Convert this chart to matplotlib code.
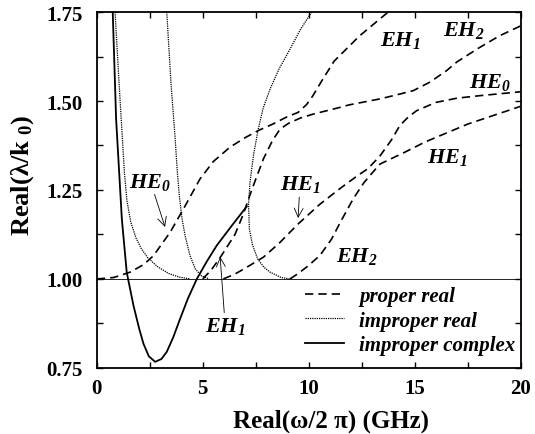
import matplotlib
matplotlib.use("Agg")
import matplotlib.pyplot as plt
from matplotlib.lines import Line2D
from matplotlib.ticker import MultipleLocator, NullFormatter

plt.rcParams['font.family'] = ['Liberation Serif', 'DejaVu Serif']
plt.rcParams['font.weight'] = 'bold'
plt.rcParams['mathtext.fontset'] = 'custom'
plt.rcParams['mathtext.rm'] = 'Liberation Serif:italic:bold'
plt.rcParams['mathtext.it'] = 'Liberation Serif:italic:bold'
plt.rcParams['mathtext.bf'] = 'Liberation Serif:bold'

# improper complex branch (solid)
cplx_f = [0.75, 0.91, 1.18, 1.41, 1.73, 2.0, 2.20, 2.45, 2.75, 3.05, 3.30, 3.6, 3.93, 4.3, 4.72, 5.2, 5.66, 6.4, 7.08]
cplx_v = [1.75, 1.449, 1.169, 1.019, 0.925, 0.86, 0.818, 0.783, 0.767, 0.775, 0.795, 0.835, 0.888, 0.945, 1.0, 1.05, 1.094, 1.152, 1.204]

# improper real branches (dotted)
impA_f = [0.86, 1.05, 1.20, 1.30, 1.42, 1.60, 1.85, 2.10, 2.40, 2.85, 3.40, 3.90, 4.40]
impA_v = [1.75, 1.55, 1.40, 1.30, 1.22, 1.16, 1.115, 1.085, 1.06, 1.035, 1.015, 1.005, 1.0]
impB_f = [3.30, 3.50, 3.69, 3.80, 3.90, 4.02, 4.17, 4.40, 4.65, 4.95, 5.30]
impB_v = [1.75, 1.55, 1.40, 1.30, 1.23, 1.17, 1.12, 1.065, 1.028, 1.008, 1.0]
impC_f = [10.14, 9.60, 9.12, 8.60, 8.18, 7.85, 7.62, 7.40, 7.23, 7.16, 7.20, 7.35, 7.60, 7.90, 8.18, 8.70, 9.12]
impC_v = [1.75, 1.70, 1.646, 1.59, 1.534, 1.48, 1.421, 1.35, 1.272, 1.21, 1.14, 1.095, 1.055, 1.032, 1.019, 1.004, 1.0]

# proper real branches (dashed)
pr1_f = [0.0, 0.8, 1.57, 2.2, 2.67, 3.46, 4.09, 4.87, 5.5, 6.28, 7.0, 7.62, 8.3, 8.96,
         9.5, 9.9, 10.2, 10.6, 11.2, 12.4, 13.75]
pr1_v = [1.0, 1.004, 1.019, 1.04, 1.065, 1.131, 1.197, 1.281, 1.33, 1.37, 1.397, 1.417, 1.435, 1.455,
         1.468, 1.49, 1.515, 1.555, 1.612, 1.683, 1.75]
pr2_f = [5.0, 5.4, 5.82, 6.2, 6.52, 6.9, 7.31, 7.86, 8.3, 8.65, 9.04, 9.6, 10.2, 11.47, 11.9,
         13.37, 14.2, 14.93, 15.72, 16.5, 17.0, 18.0, 19.0, 20.0]
pr2_v = [1.0, 1.025, 1.06, 1.095, 1.125, 1.18, 1.25, 1.337, 1.39, 1.421, 1.437, 1.452, 1.463, 1.482, 1.489,
         1.506, 1.518, 1.529, 1.553, 1.585, 1.61, 1.648, 1.683, 1.711]
pr3_f = [5.97, 6.5, 7.0, 7.86, 8.6, 9.51, 10.53, 11.5, 12.3, 12.8, 13.37, 13.9, 14.3, 14.7, 15.1,
         16.0, 17.0, 18.08, 20.0]
pr3_v = [1.0, 1.013, 1.03, 1.061, 1.10, 1.155, 1.21, 1.255, 1.29, 1.31, 1.346, 1.39, 1.431, 1.455, 1.473,
         1.496, 1.508, 1.515, 1.526]
pr4_f = [9.12, 9.5, 9.98, 10.53, 11.08, 11.5, 12.1, 12.6, 13.1, 13.37, 14.5, 15.5, 16.5, 17.5, 18.5, 20.0]
pr4_v = [1.0, 1.015, 1.037, 1.066, 1.112, 1.16, 1.225, 1.27, 1.305, 1.323, 1.355, 1.385, 1.41, 1.435, 1.455, 1.485]

fig = plt.figure(figsize=(5.35, 4.35), dpi=100)
ax = fig.add_axes([0.181, 0.152, 0.792, 0.818])

ax.axhline(1.0, color='black', lw=0.6)

dash = (0, (5, 3))
dot = (0, (1, 0.8))
for f, v in [(pr1_f, pr1_v), (pr2_f, pr2_v), (pr3_f, pr3_v), (pr4_f, pr4_v)]:
    ax.plot(f, v, color='black', lw=1.2, linestyle=dash)
for f, v in [(impA_f, impA_v), (impB_f, impB_v), (impC_f, impC_v)]:
    ax.plot(f, v, color='black', lw=0.9, linestyle=dot)
ax.plot(cplx_f, cplx_v, color='black', lw=1.3)

ax.set_xlim(0, 20)
ax.set_ylim(0.75, 1.75)
ax.xaxis.set_major_locator(MultipleLocator(5))
ax.xaxis.set_minor_locator(MultipleLocator(2.5))
ax.yaxis.set_major_locator(MultipleLocator(0.25))
ax.yaxis.set_minor_locator(MultipleLocator(0.125))
ax.yaxis.set_major_formatter(plt.FormatStrFormatter('%.2f'))
ax.xaxis.set_minor_formatter(NullFormatter())
ax.tick_params(which='both', direction='in', top=True, right=True, length=4, width=1,
               labelsize=15)
ax.tick_params(axis='x', pad=7)
ax.tick_params(axis='y', pad=10)
for lab in ax.get_xticklabels() + ax.get_yticklabels():
    lab.set_fontweight('bold')
for s in ax.spines.values():
    s.set_linewidth(1.3)

ax.set_xlabel('Real(ω/2 π) (GHz)', fontsize=18, fontweight='bold')
ax.set_ylabel(r'Real(λ/k $_\mathbf{0}$)', fontsize=19, fontweight='bold')
ax.xaxis.set_label_coords(0.553, -0.115)
ax.yaxis.set_label_coords(-0.143, 0.545)

lab_kw = dict(fontsize=16, ha='center', va='center')
arrow = dict(arrowstyle='->', lw=0.6, color='black', shrinkA=0, shrinkB=0)
ax.annotate(r'$HE_0$', xy=(3.22, 1.146), xytext=(2.52, 1.275), arrowprops=arrow, **lab_kw)
ax.annotate(r'$EH_1$', xy=(5.82, 1.062), xytext=(6.06, 0.868), arrowprops=arrow, **lab_kw)
ax.annotate(r'$HE_1$', xy=(9.50, 1.171), xytext=(9.59, 1.267), arrowprops=arrow, **lab_kw)
ax.text(12.28, 1.065, r'$EH_2$', **lab_kw)
ax.text(14.3, 1.674, r'$EH_1$', **lab_kw)
ax.text(17.3, 1.70, r'$EH_2$', **lab_kw)
ax.text(18.55, 1.556, r'$HE_0$', **lab_kw)
ax.text(16.52, 1.345, r'$HE_1$', **lab_kw)

handles = [Line2D([], [], color='black', lw=1.2, linestyle=dash),
           Line2D([], [], color='black', lw=0.9, linestyle=dot),
           Line2D([], [], color='black', lw=1.3)]
ax.legend(handles, ['proper real', 'improper real', 'improper complex'],
          loc='lower right', bbox_to_anchor=(1.008, 0.012), frameon=False,
          handlelength=1.9, handletextpad=0.72, labelspacing=0.22, borderaxespad=0.0,
          prop=dict(family='Liberation Serif', style='italic', weight='bold', size=15))

fig.savefig('out.png', dpi=100)
